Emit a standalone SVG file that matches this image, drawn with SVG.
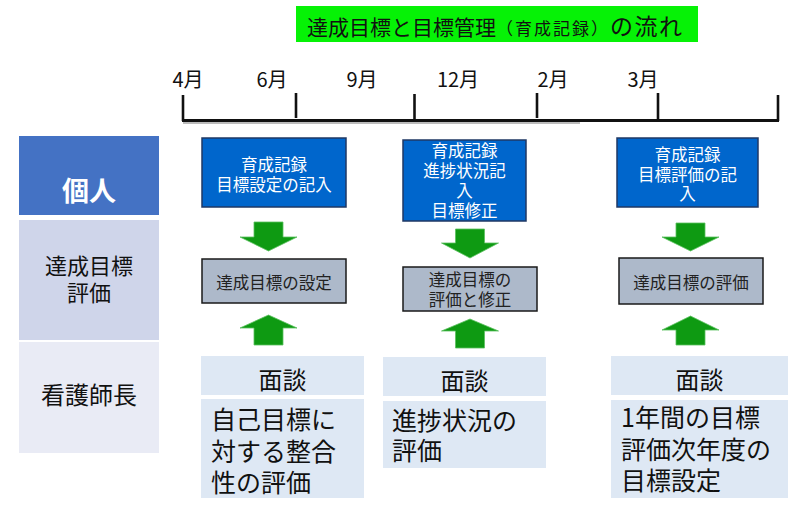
<svg xmlns="http://www.w3.org/2000/svg" width="803" height="509" viewBox="0 0 803 509">
<style>
text{font-family:"Noto Sans CJK JP","Noto Sans",sans-serif;fill:#111}
.mon{font-size:20px;text-anchor:middle}
.hdr{font-size:22px;text-anchor:middle}
.blue{fill:#0066CC;stroke:#1F3864;stroke-width:1.5}
.gray{fill:#ADB9CA;stroke:#1a1a1a;stroke-width:1.5}
.lb{fill:#DEE8F4}
.wt{fill:#fff;font-size:16.5px;text-anchor:middle}
.gt{font-size:16.5px;text-anchor:middle;fill:#222}
.md{font-size:24px;text-anchor:middle}
.bt{font-size:25px}
.arr{fill:#0E9A12;stroke:#5cc060;stroke-width:0.8}
.tick{stroke:#111;stroke-width:2.6}
</style>
<rect width="803" height="509" fill="#fff"/>
<g id="title">
<rect x="296" y="6" width="402" height="36" fill="#06F206"/>
<text x="307" y="35" style="font-size:21px"><tspan>達成目標と目標管理</tspan><tspan style="font-size:17px" letter-spacing="2">（育成記録）</tspan><tspan style="font-size:23px" letter-spacing="1.5">の流れ</tspan></text>
</g>
<g id="timeline">
<line x1="183" y1="123" x2="580" y2="123" stroke="#bbb" stroke-width="2"/>
<line x1="182" y1="120.5" x2="779" y2="120.5" stroke="#111" stroke-width="3"/>
<line class="tick" x1="183" y1="95" x2="183" y2="121"/>
<line class="tick" x1="296" y1="93" x2="296" y2="118" stroke-width="2.2"/>
<line class="tick" x1="414.5" y1="94" x2="414.5" y2="121"/>
<line class="tick" x1="537" y1="93" x2="537" y2="118" stroke-width="2.2"/>
<line class="tick" x1="658" y1="93" x2="658" y2="121"/>
<line class="tick" x1="778" y1="95" x2="778" y2="121"/>
<text class="mon" x="188" y="87">4月</text>
<text class="mon" x="272" y="87">6月</text>
<text class="mon" x="362" y="87">9月</text>
<text class="mon" x="458" y="87">12月</text>
<text class="mon" x="553" y="87">2月</text>
<text class="mon" x="643" y="87">3月</text>
</g>
<g id="row-kojin">
<rect x="19" y="136" width="140" height="79" fill="#4472C4"/>
<text x="89" y="201" style="font-size:27px;font-weight:bold;fill:#fff;text-anchor:middle">個人</text>
</g>
<g id="row-tassei">
<rect x="19" y="220" width="140" height="120" fill="#CFD5EA"/>
<text class="hdr" x="89" y="274">達成目標</text>
<text class="hdr" x="89" y="301">評価</text>
</g>
<g id="row-kango">
<rect x="19" y="342" width="140" height="111" fill="#E9EBF5"/>
<text class="hdr" x="89" y="404" style="font-size:24px">看護師長</text>
</g>
<g id="blue1">
<rect class="blue" x="202" y="138" width="144" height="69"/>
<text class="wt" x="274" y="171">育成記録</text>
<text class="wt" x="274" y="191">目標設定の記入</text>
</g>
<g id="blue2">
<rect class="blue" x="403" y="140" width="123" height="81"/>
<text class="wt" x="464.5" y="157">育成記録</text>
<text class="wt" x="464.5" y="177">進捗状況記</text>
<text class="wt" x="464.5" y="197">入</text>
<text class="wt" x="464.5" y="217">目標修正</text>
</g>
<g id="blue3">
<rect class="blue" x="617" y="138" width="141" height="69"/>
<text class="wt" x="687.5" y="161">育成記録</text>
<text class="wt" x="687.5" y="181">目標評価の記</text>
<text class="wt" x="687.5" y="200">入</text>
</g>
<g id="gray1">
<rect class="gray" x="202" y="259" width="144" height="44"/>
<text class="gt" x="274" y="289">達成目標の設定</text>
</g>
<g id="gray2">
<rect class="gray" x="403" y="267" width="134" height="44"/>
<text class="gt" x="470" y="286">達成目標の</text>
<text class="gt" x="470" y="306">評価と修正</text>
</g>
<g id="gray3">
<rect class="gray" x="619" y="258" width="144" height="46"/>
<text class="gt" x="691" y="289">達成目標の評価</text>
</g>
<g id="mendan1">
<rect class="lb" x="201" y="356" width="163" height="39"/>
<text class="md" x="282.5" y="389">面談</text>
<rect class="lb" x="201" y="399" width="163" height="99"/>
<text class="bt" x="211" y="429">自己目標に</text>
<text class="bt" x="211" y="461">対する整合</text>
<text class="bt" x="211" y="492">性の評価</text>
</g>
<g id="mendan2">
<rect class="lb" x="383" y="357" width="163" height="39"/>
<text class="md" x="464.5" y="390">面談</text>
<rect class="lb" x="383" y="401" width="163" height="67"/>
<text class="bt" x="392" y="430">進捗状況の</text>
<text class="bt" x="392" y="460">評価</text>
</g>
<g id="mendan3">
<rect class="lb" x="611" y="356" width="177" height="39"/>
<text class="md" x="699.5" y="389">面談</text>
<rect class="lb" x="611" y="400" width="177" height="98"/>
<text class="bt" x="621" y="427">1年間の目標</text>
<text class="bt" x="621" y="459">評価次年度の</text>
<text class="bt" x="621" y="490">目標設定</text>
</g>
<g id="connectors">
<polygon class="arr" points="254,222 283,222 283,237 297,237 268.5,251 240,237 254,237"/>
<polygon class="arr" points="455.5,229 484.5,229 484.5,243 498.5,243 470,258 441.5,243 455.5,243"/>
<polygon class="arr" points="676,223 705,223 705,237 719,237 690.5,251 662,237 676,237"/>
<polygon class="arr" points="268.5,315 297,328 283,328 283,345 254,345 254,328 240,328"/>
<polygon class="arr" points="470,319 498.5,331 484.5,331 484.5,348 455.5,348 455.5,331 441.5,331"/>
<polygon class="arr" points="690.5,316 719,330 705,330 705,345 676,345 676,330 662,330"/>
</g>
</svg>
